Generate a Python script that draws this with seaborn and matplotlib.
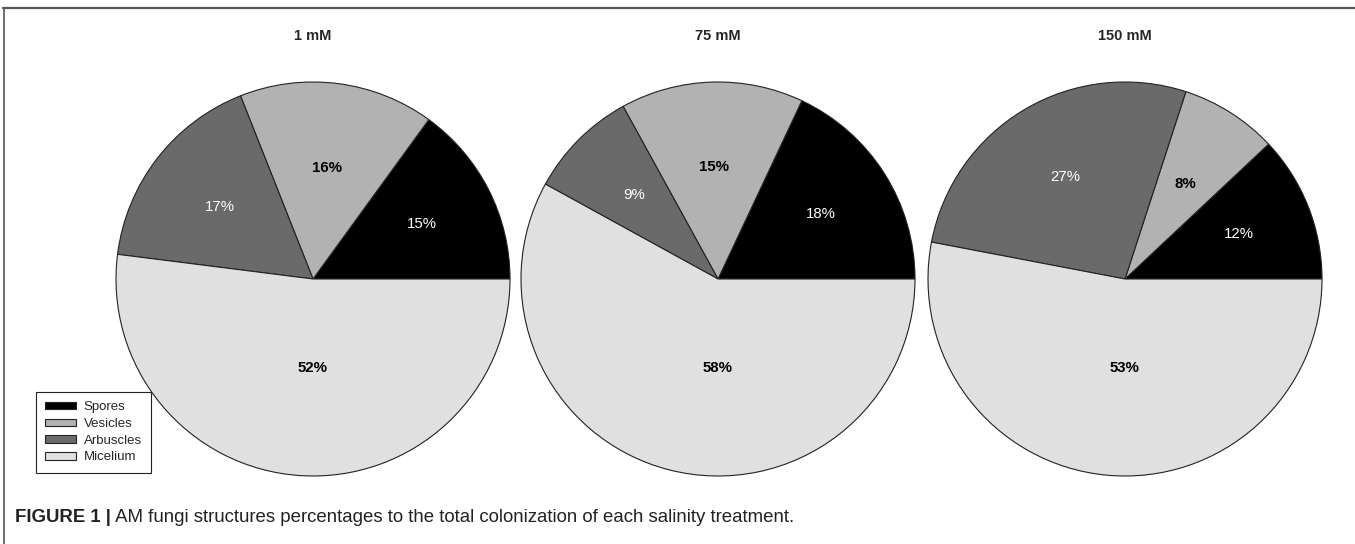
import matplotlib
matplotlib.use("Agg")
import matplotlib.pyplot as plt
from matplotlib.lines import Line2D
from matplotlib.patches import Patch
import numpy as np
import pandas as pd
import seaborn as sns

# Colonization shares (%) of each AM fungi structure per salinity treatment
treatments = ["1 mM", "75 mM", "150 mM"]
structures = ["Spores", "Vesicles", "Arbuscles", "Micelium"]
spores = [15, 18, 12]
vesicles = [16, 15, 8]
arbuscles = [17, 9, 27]
micelium = [52, 58, 53]

caption_bold = "FIGURE 1 |"
caption_text = " AM fungi structures percentages to the total colonization of each salinity treatment."

df = pd.DataFrame({"Spores": spores, "Vesicles": vesicles,
                   "Arbuscles": arbuscles, "Micelium": micelium},
                  index=treatments)

sns.set_theme(style="white")
plt.rcParams["font.family"] = ["Liberation Sans", "DejaVu Sans"]

palette = sns.color_palette(["#000000", "#b2b2b2", "#6a6a6a", "#e0e0e0"])
label_colors = ["white", "black", "white", "black"]
label_weights = ["normal", "bold", "normal", "bold"]
label_radius = [0.62, 0.57, 0.60, 0.45]

W, H = 1355, 544
fig = plt.figure(figsize=(W / 100, H / 100), dpi=100)

centers_x = [313, 718, 1125]
center_y = 279
R = 197
pad = 1.04

for cx, name in zip(centers_x, treatments):
    half = R * pad
    ax = fig.add_axes([(cx - half) / W, (H - center_y - half) / H,
                       2 * half / W, 2 * half / H])
    vals = df.loc[name, structures].values
    wedges, _ = ax.pie(vals, colors=palette, startangle=0, counterclock=True,
                       radius=1,
                       wedgeprops=dict(edgecolor="#222222", linewidth=0.8))
    biggest = int(np.argmax(vals))
    for i, (w, v, col, wt, r) in enumerate(zip(wedges, vals, label_colors,
                                               label_weights, label_radius)):
        # the dominant slice carries its label straight below the centre
        mid = 270.0 if i == biggest else (w.theta1 + w.theta2) / 2
        ang = np.deg2rad(mid)
        ax.text(r * np.cos(ang), r * np.sin(ang), f"{v}%", ha="center",
                va="center", color=col, fontweight=wt, fontsize=10.8)
    ax.set_xlim(-pad, pad)
    ax.set_ylim(-pad, pad)
    ax.set_aspect("equal")
    ax.axis("off")
    fig.text(cx / W, 1 - 36 / H, name, ha="center", va="center",
             fontsize=10.5, fontweight="bold")

# Legend box in the lower left
handles = [Patch(facecolor=c, edgecolor="#222222", linewidth=0.8) for c in palette]
leg = fig.legend(handles, structures, loc="upper left",
                 bbox_to_anchor=(36 / W, 1 - 392 / H), fontsize=9.5,
                 frameon=True, fancybox=False, framealpha=1,
                 edgecolor="#222222", handlelength=2.3, handleheight=0.5,
                 labelspacing=0.36, handletextpad=0.6, borderpad=0.7,
                 borderaxespad=0)
leg.get_frame().set_linewidth(0.8)

# Figure frame lines
fig.add_artist(Line2D([3 / W, 1], [1 - 8 / H, 1 - 8 / H], color="#555555",
                      linewidth=1.6, transform=fig.transFigure))
fig.add_artist(Line2D([4 / W, 4 / W], [0, 1 - 8 / H], color="#555555",
                      linewidth=1.2, transform=fig.transFigure))

# Caption
t1 = fig.text(15 / W, 1 - 518 / H, caption_bold, ha="left", va="center",
              fontsize=13.4, fontweight="bold", color="#222222")
fig.canvas.draw()
bb = t1.get_window_extent(renderer=fig.canvas.get_renderer())
fig.text(bb.x1 / W, 1 - 518 / H, caption_text, ha="left", va="center",
         fontsize=13.4, color="#222222")

fig.savefig("out.png", dpi=100)
